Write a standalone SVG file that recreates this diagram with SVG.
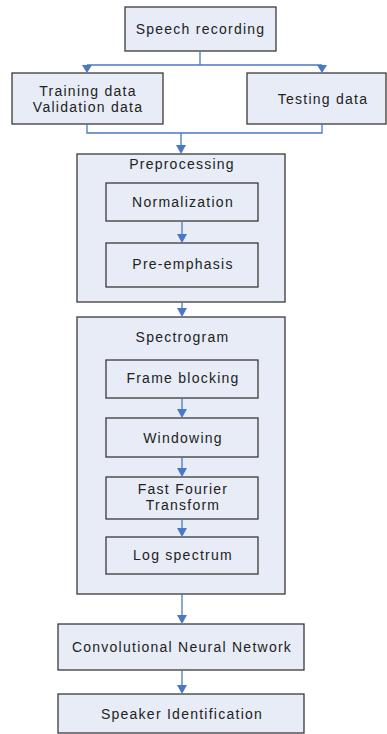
<svg xmlns="http://www.w3.org/2000/svg" width="387" height="734" viewBox="0 0 387 734">
<style>
.box{fill:#e7ecf6;stroke:#3a3a3a;stroke-width:1.3}
.t{font-family:"Liberation Sans",Arial,sans-serif;font-size:14px;letter-spacing:1.25px;fill:#222;text-anchor:middle}
.c{fill:none;stroke:#4a78c2;stroke-width:1.3}
.a{fill:#4a78c2}
</style>
<rect width="387" height="734" fill="#fff"/>
<g id="speech"><rect class="box" x="125" y="7" width="151" height="44"/><text class="t" x="200.5" y="34">Speech recording</text></g>
<g id="training"><rect class="box" x="12" y="73" width="151" height="51"/><text class="t" x="88" y="95.5">Training data</text><text class="t" x="88" y="111.5">Validation data</text></g>
<g id="testing"><rect class="box" x="247" y="73" width="139" height="51"/><text class="t" x="323" y="104">Testing data</text></g>
<g id="preprocessing"><rect class="box" x="77" y="154" width="208" height="148"/><text class="t" x="182" y="169">Preprocessing</text></g>
<g id="normalization"><rect class="box" x="106" y="183" width="152" height="38"/><text class="t" x="183" y="207">Normalization</text></g>
<g id="preemphasis"><rect class="box" x="106" y="243" width="152" height="44"/><text class="t" x="183" y="269">Pre-emphasis</text></g>
<g id="spectrogram"><rect class="box" x="77" y="317" width="208" height="277"/><text class="t" x="182.5" y="342">Spectrogram</text></g>
<g id="frameblocking"><rect class="box" x="106" y="360" width="152" height="38"/><text class="t" x="183" y="383">Frame blocking</text></g>
<g id="windowing"><rect class="box" x="106" y="418" width="152" height="39"/><text class="t" x="183" y="443">Windowing</text></g>
<g id="fft"><rect class="box" x="106" y="477" width="152" height="42"/><text class="t" x="183" y="494">Fast Fourier</text><text class="t" x="183" y="510">Transform</text></g>
<g id="logspectrum"><rect class="box" x="106" y="537" width="152" height="37"/><text class="t" x="183" y="560">Log spectrum</text></g>
<g id="cnn"><rect class="box" x="58" y="624" width="246" height="46"/><text class="t" x="182" y="652">Convolutional Neural Network</text></g>
<g id="speaker"><rect class="box" x="58" y="694" width="246" height="39"/><text class="t" x="182" y="719">Speaker Identification</text></g>
<g id="connectors">
<path class="c" d="M200,51 V65 M87,65 H322"/>
<path class="c" d="M87,65 V70"/>
<path class="c" d="M322,65 V70"/>
<path class="c" d="M87,124 V133 H322 V124 M181,133 V150"/>
<path class="c" d="M182,221 V239"/>
<path class="c" d="M182,302 V313"/>
<path class="c" d="M182,398 V414"/>
<path class="c" d="M182,457 V473"/>
<path class="c" d="M182,519 V533"/>
<path class="c" d="M182,594 V620"/>
<path class="c" d="M182,670 V690"/>
<polygon class="a" points="82,65 92,65 87,73"/>
<polygon class="a" points="317,65 327,65 322,73"/>
<polygon class="a" points="176,145 186,145 181,154"/>
<polygon class="a" points="177,234 187,234 182,243"/>
<polygon class="a" points="177,308 187,308 182,317"/>
<polygon class="a" points="177,409 187,409 182,418"/>
<polygon class="a" points="177,468 187,468 182,477"/>
<polygon class="a" points="177,528 187,528 182,537"/>
<polygon class="a" points="177,615 187,615 182,624"/>
<polygon class="a" points="177,685 187,685 182,694"/>
</g>
</svg>
